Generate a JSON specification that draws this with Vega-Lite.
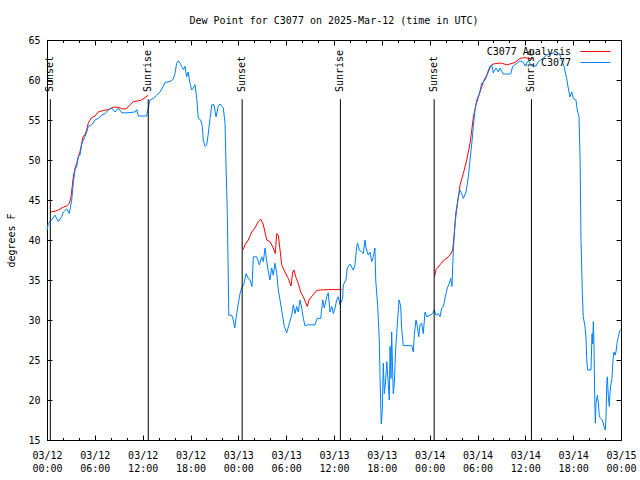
{
  "$schema": "https://vega.github.io/schema/vega-lite/v6.json",
  "width": 574,
  "height": 400,
  "autosize": {"type": "none"},
  "padding": {"left": 47, "top": 40, "right": 19, "bottom": 40},
  "background": "#ffffff",
  "title": {"text": "Dew Point for C3077 on 2025-Mar-12 (time in UTC)", "font": "DejaVu Sans Mono", "fontSize": 10, "fontWeight": "normal", "color": "#000", "offset": 9, "anchor": "middle"},
  "config": {
    "font": "DejaVu Sans Mono",
    "view": {"stroke": "#000", "strokeWidth": 1},
    "axis": {"domainColor": "#000", "tickColor": "#000", "labelColor": "#000", "titleColor": "#000", "labelFont": "DejaVu Sans Mono", "labelFontSize": 10, "titleFont": "DejaVu Sans Mono", "titleFontSize": 10, "titleFontWeight": "normal", "grid": false, "domain": false}
  },
  "resolve": {"axis": {"x": "independent", "y": "independent"}},
  "layer": [
    {
      "data": {
        "values": [
          {"t":"2025-03-12T00:28Z","v":43.5,"g":1},{"t":"2025-03-12T01:00Z","v":43.6,"g":1},{"t":"2025-03-12T01:25Z","v":43.75,"g":1},{"t":"2025-03-12T02:03Z","v":44.1,"g":1},{"t":"2025-03-12T02:28Z","v":44.25,"g":1},{"t":"2025-03-12T02:48Z","v":44.6,"g":1},{"t":"2025-03-12T03:01Z","v":45.4,"g":1},{"t":"2025-03-12T03:10Z","v":46.7,"g":1},{"t":"2025-03-12T03:18Z","v":47.9,"g":1},{"t":"2025-03-12T03:31Z","v":49.0,"g":1},{"t":"2025-03-12T03:44Z","v":49.6,"g":1},{"t":"2025-03-12T03:56Z","v":50.4,"g":1},{"t":"2025-03-12T04:08Z","v":51.0,"g":1},{"t":"2025-03-12T04:21Z","v":52.1,"g":1},{"t":"2025-03-12T04:33Z","v":53.0,"g":1},{"t":"2025-03-12T04:46Z","v":53.1,"g":1},{"t":"2025-03-12T04:59Z","v":53.8,"g":1},{"t":"2025-03-12T05:11Z","v":54.6,"g":1},{"t":"2025-03-12T05:24Z","v":55.0,"g":1},{"t":"2025-03-12T05:36Z","v":55.3,"g":1},{"t":"2025-03-12T06:01Z","v":55.5,"g":1},{"t":"2025-03-12T06:26Z","v":56.0,"g":1},{"t":"2025-03-12T07:04Z","v":56.2,"g":1},{"t":"2025-03-12T07:41Z","v":56.3,"g":1},{"t":"2025-03-12T08:19Z","v":56.6,"g":1},{"t":"2025-03-12T08:57Z","v":56.6,"g":1},{"t":"2025-03-12T09:22Z","v":56.4,"g":1},{"t":"2025-03-12T09:55Z","v":56.4,"g":1},{"t":"2025-03-12T10:25Z","v":56.9,"g":1},{"t":"2025-03-12T10:50Z","v":57.3,"g":1},{"t":"2025-03-12T11:27Z","v":57.4,"g":1},{"t":"2025-03-12T11:53Z","v":57.5,"g":1},{"t":"2025-03-12T12:18Z","v":57.8,"g":1},{"t":"2025-03-12T12:42Z","v":58.1,"g":1},
          {"t":"2025-03-13T00:37Z","v":38.8,"g":2},{"t":"2025-03-13T00:50Z","v":39.4,"g":2},{"t":"2025-03-13T01:15Z","v":40.0,"g":2},{"t":"2025-03-13T01:41Z","v":41.0,"g":2},{"t":"2025-03-13T02:05Z","v":41.5,"g":2},{"t":"2025-03-13T02:30Z","v":42.3,"g":2},{"t":"2025-03-13T02:49Z","v":42.6,"g":2},{"t":"2025-03-13T03:08Z","v":41.9,"g":2},{"t":"2025-03-13T03:34Z","v":40.0,"g":2},{"t":"2025-03-13T03:58Z","v":39.8,"g":2},{"t":"2025-03-13T04:23Z","v":39.0,"g":2},{"t":"2025-03-13T04:38Z","v":38.3,"g":2},{"t":"2025-03-13T04:49Z","v":40.8,"g":2},{"t":"2025-03-13T05:01Z","v":40.6,"g":2},{"t":"2025-03-13T05:14Z","v":38.75,"g":2},{"t":"2025-03-13T05:26Z","v":36.9,"g":2},{"t":"2025-03-13T05:51Z","v":36.0,"g":2},{"t":"2025-03-13T06:16Z","v":35.2,"g":2},{"t":"2025-03-13T06:37Z","v":34.25,"g":2},{"t":"2025-03-13T06:49Z","v":36.0,"g":2},{"t":"2025-03-13T06:59Z","v":36.25,"g":2},{"t":"2025-03-13T07:12Z","v":35.4,"g":2},{"t":"2025-03-13T07:31Z","v":34.6,"g":2},{"t":"2025-03-13T07:49Z","v":33.5,"g":2},{"t":"2025-03-13T08:09Z","v":32.9,"g":2},{"t":"2025-03-13T08:39Z","v":31.7,"g":2},{"t":"2025-03-13T08:52Z","v":32.5,"g":2},{"t":"2025-03-13T09:20Z","v":33.1,"g":2},{"t":"2025-03-13T09:50Z","v":33.7,"g":2},{"t":"2025-03-13T10:20Z","v":33.75,"g":2},{"t":"2025-03-13T11:17Z","v":33.8,"g":2},{"t":"2025-03-13T12:58Z","v":33.8,"g":2},
          {"t":"2025-03-14T00:38Z","v":35.5,"g":3},{"t":"2025-03-14T00:48Z","v":36.3,"g":3},{"t":"2025-03-14T01:18Z","v":36.9,"g":3},{"t":"2025-03-14T01:43Z","v":37.4,"g":3},{"t":"2025-03-14T02:20Z","v":37.9,"g":3},{"t":"2025-03-14T02:38Z","v":38.25,"g":3},{"t":"2025-03-14T02:53Z","v":38.75,"g":3},{"t":"2025-03-14T03:05Z","v":40.8,"g":3},{"t":"2025-03-14T03:18Z","v":43.5,"g":3},{"t":"2025-03-14T03:35Z","v":45.2,"g":3},{"t":"2025-03-14T03:49Z","v":46.9,"g":3},{"t":"2025-03-14T04:13Z","v":48.3,"g":3},{"t":"2025-03-14T04:39Z","v":50.0,"g":3},{"t":"2025-03-14T05:04Z","v":52.1,"g":3},{"t":"2025-03-14T05:17Z","v":53.75,"g":3},{"t":"2025-03-14T05:29Z","v":55.4,"g":3},{"t":"2025-03-14T05:49Z","v":56.9,"g":3},{"t":"2025-03-14T06:19Z","v":58.5,"g":3},{"t":"2025-03-14T06:44Z","v":59.8,"g":3},{"t":"2025-03-14T07:09Z","v":60.6,"g":3},{"t":"2025-03-14T07:34Z","v":61.7,"g":3},{"t":"2025-03-14T07:59Z","v":62.0,"g":3},{"t":"2025-03-14T08:37Z","v":62.1,"g":3},{"t":"2025-03-14T09:02Z","v":62.1,"g":3},{"t":"2025-03-14T09:40Z","v":61.9,"g":3},{"t":"2025-03-14T10:05Z","v":62.0,"g":3},{"t":"2025-03-14T10:43Z","v":62.2,"g":3},{"t":"2025-03-14T11:20Z","v":62.7,"g":3},{"t":"2025-03-14T11:58Z","v":62.8,"g":3},{"t":"2025-03-14T12:23Z","v":62.7,"g":3},{"t":"2025-03-14T12:56Z","v":62.6,"g":3}
        ]
      },
      "mark": {"type": "line", "strokeWidth": 1},
      "encoding": {
        "x": {"field": "t", "type": "temporal", "scale": {"type": "utc", "nice": false, "domain": [1741737600000, 1741996800000]}, "axis": {"orient": "top", "title": null, "labels": false, "tickSize": -5, "values": [1741737600000, 1741759200000, 1741780800000, 1741802400000, 1741824000000, 1741845600000, 1741867200000, 1741888800000, 1741910400000, 1741932000000, 1741953600000, 1741975200000, 1741996800000]}},
        "y": {"field": "v", "type": "quantitative", "scale": {"domain": [15, 65], "nice": false, "zero": false}, "axis": {"orient": "right", "title": null, "labels": false, "tickSize": -5, "values": [15, 20, 25, 30, 35, 40, 45, 50, 55, 60, 65]}},
        "detail": {"field": "g", "type": "nominal"},
        "color": {"datum": "C3077 Analysis", "type": "nominal", "scale": {"domain": ["C3077 Analysis", "C3077"], "range": ["#ff0000", "#0080ff"]}, "legend": {"orient": "none", "legendX": 543, "legendY": 6, "padding": 0, "title": null, "symbolType": "M-3,0H3", "symbolSize": 100, "symbolStrokeWidth": 1, "rowPadding": 0, "labelAlign": "right", "labelOffset": -30, "labelFont": "DejaVu Sans Mono", "labelFontSize": 10, "labelColor": "#000"}}
      }
    },
    {
      "data": {
        "values": [
          {"t":"2025-03-12T00:00Z","v":41.2},{"t":"2025-03-12T00:10Z","v":42.1},{"t":"2025-03-12T00:35Z","v":42.5},{"t":"2025-03-12T01:00Z","v":43.1},{"t":"2025-03-12T01:25Z","v":42.3},{"t":"2025-03-12T01:50Z","v":42.9},{"t":"2025-03-12T02:03Z","v":43.5},{"t":"2025-03-12T02:28Z","v":43.9},{"t":"2025-03-12T02:48Z","v":43.3},{"t":"2025-03-12T03:06Z","v":45.0},{"t":"2025-03-12T03:18Z","v":47.1},{"t":"2025-03-12T03:31Z","v":48.75},{"t":"2025-03-12T03:44Z","v":49.2},{"t":"2025-03-12T03:56Z","v":50.4},{"t":"2025-03-12T04:08Z","v":50.6},{"t":"2025-03-12T04:21Z","v":51.9},{"t":"2025-03-12T04:33Z","v":52.5},{"t":"2025-03-12T04:46Z","v":52.9},{"t":"2025-03-12T04:59Z","v":53.5},{"t":"2025-03-12T05:11Z","v":54.2},{"t":"2025-03-12T05:36Z","v":54.4},{"t":"2025-03-12T06:01Z","v":55.0},{"t":"2025-03-12T06:26Z","v":55.2},{"t":"2025-03-12T06:52Z","v":55.6},{"t":"2025-03-12T07:17Z","v":55.8},{"t":"2025-03-12T07:41Z","v":56.25},{"t":"2025-03-12T08:07Z","v":56.5},{"t":"2025-03-12T08:32Z","v":56.0},{"t":"2025-03-12T08:57Z","v":56.5},{"t":"2025-03-12T09:22Z","v":55.9},{"t":"2025-03-12T10:00Z","v":55.9},{"t":"2025-03-12T11:02Z","v":56.0},{"t":"2025-03-12T11:15Z","v":56.3},{"t":"2025-03-12T11:27Z","v":55.5},{"t":"2025-03-12T12:30Z","v":55.5},{"t":"2025-03-12T12:42Z","v":56.5},{"t":"2025-03-12T12:55Z","v":57.5},{"t":"2025-03-12T13:20Z","v":57.7},{"t":"2025-03-12T13:46Z","v":58.1},{"t":"2025-03-12T14:10Z","v":58.5},{"t":"2025-03-12T14:35Z","v":59.2},{"t":"2025-03-12T14:48Z","v":59.7},{"t":"2025-03-12T15:26Z","v":59.8},{"t":"2025-03-12T15:50Z","v":60.1},{"t":"2025-03-12T16:03Z","v":60.8},{"t":"2025-03-12T16:16Z","v":62.1},{"t":"2025-03-12T16:28Z","v":62.4},{"t":"2025-03-12T16:41Z","v":62.1},{"t":"2025-03-12T16:54Z","v":61.7},{"t":"2025-03-12T17:06Z","v":61.3},{"t":"2025-03-12T17:19Z","v":61.7},{"t":"2025-03-12T17:31Z","v":60.4},{"t":"2025-03-12T17:43Z","v":61.0},{"t":"2025-03-12T17:56Z","v":59.6},{"t":"2025-03-12T18:09Z","v":58.75},{"t":"2025-03-12T18:21Z","v":59.0},{"t":"2025-03-12T18:34Z","v":59.4},{"t":"2025-03-12T18:47Z","v":57.7},{"t":"2025-03-12T18:59Z","v":55.2},{"t":"2025-03-12T19:17Z","v":55.0},{"t":"2025-03-12T19:29Z","v":54.2},{"t":"2025-03-12T19:36Z","v":52.5},{"t":"2025-03-12T19:49Z","v":51.7},{"t":"2025-03-12T20:02Z","v":51.9},{"t":"2025-03-12T20:14Z","v":53.3},{"t":"2025-03-12T20:27Z","v":55.2},{"t":"2025-03-12T20:40Z","v":56.9},{"t":"2025-03-12T20:57Z","v":56.9},{"t":"2025-03-12T21:12Z","v":55.4},{"t":"2025-03-12T21:29Z","v":56.7},{"t":"2025-03-12T21:42Z","v":57.0},{"t":"2025-03-12T22:07Z","v":56.5},{"t":"2025-03-12T22:20Z","v":54.6},{"t":"2025-03-12T22:27Z","v":49.6},{"t":"2025-03-12T22:37Z","v":43.3},{"t":"2025-03-12T22:45Z","v":34.6},{"t":"2025-03-12T22:48Z","v":30.6},{"t":"2025-03-12T23:10Z","v":30.6},{"t":"2025-03-12T23:22Z","v":30.0},{"t":"2025-03-12T23:33Z","v":29.0},{"t":"2025-03-12T23:48Z","v":30.8},
          {"t":"2025-03-13T00:00Z","v":32.1},{"t":"2025-03-13T00:13Z","v":33.3},{"t":"2025-03-13T00:25Z","v":34.0},{"t":"2025-03-13T00:43Z","v":34.6},{"t":"2025-03-13T00:58Z","v":35.8},{"t":"2025-03-13T01:15Z","v":35.2},{"t":"2025-03-13T01:28Z","v":35.0},{"t":"2025-03-13T01:43Z","v":34.2},{"t":"2025-03-13T01:53Z","v":37.9},{"t":"2025-03-13T02:18Z","v":37.9},{"t":"2025-03-13T02:38Z","v":36.9},{"t":"2025-03-13T02:56Z","v":37.9},{"t":"2025-03-13T03:08Z","v":37.3},{"t":"2025-03-13T03:21Z","v":39.0},{"t":"2025-03-13T03:34Z","v":37.3},{"t":"2025-03-13T03:46Z","v":36.0},{"t":"2025-03-13T03:58Z","v":35.0},{"t":"2025-03-13T04:11Z","v":36.5},{"t":"2025-03-13T04:23Z","v":35.6},{"t":"2025-03-13T04:36Z","v":37.1},{"t":"2025-03-13T04:49Z","v":35.8},{"t":"2025-03-13T05:01Z","v":33.75},{"t":"2025-03-13T05:14Z","v":32.5},{"t":"2025-03-13T05:34Z","v":30.4},{"t":"2025-03-13T05:46Z","v":29.2},{"t":"2025-03-13T06:04Z","v":28.4},{"t":"2025-03-13T06:24Z","v":29.6},{"t":"2025-03-13T06:42Z","v":30.6},{"t":"2025-03-13T06:54Z","v":31.9},{"t":"2025-03-13T07:07Z","v":30.8},{"t":"2025-03-13T07:19Z","v":31.7},{"t":"2025-03-13T07:31Z","v":31.0},{"t":"2025-03-13T07:44Z","v":32.5},{"t":"2025-03-13T07:57Z","v":31.5},{"t":"2025-03-13T08:09Z","v":30.2},{"t":"2025-03-13T08:22Z","v":29.25},{"t":"2025-03-13T08:39Z","v":29.4},{"t":"2025-03-13T09:37Z","v":29.4},{"t":"2025-03-13T09:54Z","v":30.2},{"t":"2025-03-13T10:20Z","v":30.2},{"t":"2025-03-13T10:35Z","v":32.5},{"t":"2025-03-13T10:47Z","v":31.5},{"t":"2025-03-13T11:05Z","v":32.9},{"t":"2025-03-13T11:17Z","v":33.4},{"t":"2025-03-13T11:30Z","v":31.0},{"t":"2025-03-13T11:43Z","v":31.7},{"t":"2025-03-13T11:55Z","v":30.8},{"t":"2025-03-13T12:08Z","v":31.5},{"t":"2025-03-13T12:20Z","v":32.5},{"t":"2025-03-13T12:32Z","v":32.9},{"t":"2025-03-13T12:45Z","v":31.9},{"t":"2025-03-13T13:05Z","v":32.7},{"t":"2025-03-13T13:10Z","v":34.4},{"t":"2025-03-13T13:30Z","v":35.0},{"t":"2025-03-13T13:40Z","v":36.5},{"t":"2025-03-13T14:00Z","v":37.0},{"t":"2025-03-13T14:25Z","v":36.25},{"t":"2025-03-13T14:38Z","v":36.9},{"t":"2025-03-13T14:51Z","v":39.2},{"t":"2025-03-13T14:58Z","v":39.6},{"t":"2025-03-13T15:10Z","v":38.75},{"t":"2025-03-13T15:29Z","v":38.5},{"t":"2025-03-13T15:41Z","v":38.3},{"t":"2025-03-13T15:53Z","v":40.0},{"t":"2025-03-13T16:01Z","v":39.0},{"t":"2025-03-13T16:18Z","v":38.1},{"t":"2025-03-13T16:31Z","v":38.5},{"t":"2025-03-13T16:44Z","v":37.3},{"t":"2025-03-13T16:56Z","v":37.9},{"t":"2025-03-13T17:08Z","v":39.0},{"t":"2025-03-13T17:14Z","v":35.0},{"t":"2025-03-13T17:29Z","v":31.7},{"t":"2025-03-13T17:41Z","v":27.5},{"t":"2025-03-13T17:46Z","v":23.3},{"t":"2025-03-13T17:52Z","v":18.9},{"t":"2025-03-13T17:56Z","v":17.0},{"t":"2025-03-13T18:04Z","v":18.9},{"t":"2025-03-13T18:11Z","v":24.6},{"t":"2025-03-13T18:19Z","v":20.8},{"t":"2025-03-13T18:29Z","v":22.5},{"t":"2025-03-13T18:37Z","v":24.8},{"t":"2025-03-13T18:49Z","v":21.9},{"t":"2025-03-13T18:56Z","v":20.0},{"t":"2025-03-13T19:02Z","v":26.7},{"t":"2025-03-13T19:09Z","v":22.7},{"t":"2025-03-13T19:14Z","v":28.5},{"t":"2025-03-13T19:26Z","v":20.8},{"t":"2025-03-13T19:34Z","v":22.1},{"t":"2025-03-13T19:44Z","v":26.25},{"t":"2025-03-13T19:52Z","v":28.3},{"t":"2025-03-13T19:59Z","v":30.0},{"t":"2025-03-13T20:09Z","v":32.5},{"t":"2025-03-13T20:22Z","v":31.75},{"t":"2025-03-13T20:29Z","v":29.0},{"t":"2025-03-13T20:41Z","v":26.8},{"t":"2025-03-13T21:45Z","v":26.8},{"t":"2025-03-13T21:57Z","v":26.0},{"t":"2025-03-13T22:04Z","v":28.1},{"t":"2025-03-13T22:17Z","v":30.0},{"t":"2025-03-13T22:27Z","v":29.2},{"t":"2025-03-13T22:38Z","v":27.9},{"t":"2025-03-13T22:47Z","v":29.4},{"t":"2025-03-13T23:00Z","v":29.6},{"t":"2025-03-13T23:12Z","v":28.3},{"t":"2025-03-13T23:25Z","v":31.0},{"t":"2025-03-13T23:38Z","v":30.4},
          {"t":"2025-03-14T00:03Z","v":30.6},{"t":"2025-03-14T00:23Z","v":30.8},{"t":"2025-03-14T00:35Z","v":31.25},{"t":"2025-03-14T00:48Z","v":30.6},{"t":"2025-03-14T01:05Z","v":30.8},{"t":"2025-03-14T01:18Z","v":30.4},{"t":"2025-03-14T01:31Z","v":31.5},{"t":"2025-03-14T01:43Z","v":31.7},{"t":"2025-03-14T02:03Z","v":33.3},{"t":"2025-03-14T02:13Z","v":34.0},{"t":"2025-03-14T02:28Z","v":34.6},{"t":"2025-03-14T02:38Z","v":35.2},{"t":"2025-03-14T02:48Z","v":34.2},{"t":"2025-03-14T02:58Z","v":38.75},{"t":"2025-03-14T03:11Z","v":42.1},{"t":"2025-03-14T03:23Z","v":43.75},{"t":"2025-03-14T03:35Z","v":45.4},{"t":"2025-03-14T03:49Z","v":46.25},{"t":"2025-03-14T04:01Z","v":45.8},{"t":"2025-03-14T04:13Z","v":45.2},{"t":"2025-03-14T04:34Z","v":46.0},{"t":"2025-03-14T04:51Z","v":47.9},{"t":"2025-03-14T05:04Z","v":50.0},{"t":"2025-03-14T05:17Z","v":52.1},{"t":"2025-03-14T05:29Z","v":54.2},{"t":"2025-03-14T05:41Z","v":56.25},{"t":"2025-03-14T05:54Z","v":57.5},{"t":"2025-03-14T06:14Z","v":58.3},{"t":"2025-03-14T06:32Z","v":59.6},{"t":"2025-03-14T06:57Z","v":60.0},{"t":"2025-03-14T07:17Z","v":60.8},{"t":"2025-03-14T07:34Z","v":61.5},{"t":"2025-03-14T07:47Z","v":61.9},{"t":"2025-03-14T07:59Z","v":60.9},{"t":"2025-03-14T08:19Z","v":61.5},{"t":"2025-03-14T08:37Z","v":61.0},{"t":"2025-03-14T08:49Z","v":61.5},{"t":"2025-03-14T09:14Z","v":60.75},{"t":"2025-03-14T10:10Z","v":60.75},{"t":"2025-03-14T10:25Z","v":61.7},{"t":"2025-03-14T10:43Z","v":61.9},{"t":"2025-03-14T11:20Z","v":62.4},{"t":"2025-03-14T11:45Z","v":62.2},{"t":"2025-03-14T11:58Z","v":61.75},{"t":"2025-03-14T12:23Z","v":62.4},{"t":"2025-03-14T12:48Z","v":61.75},{"t":"2025-03-14T13:20Z","v":61.75},{"t":"2025-03-14T13:38Z","v":62.3},{"t":"2025-03-14T13:56Z","v":62.5},{"t":"2025-03-14T14:15Z","v":62.7},{"t":"2025-03-14T14:36Z","v":63.1},{"t":"2025-03-14T15:06Z","v":63.25},{"t":"2025-03-14T15:31Z","v":63.4},{"t":"2025-03-14T15:56Z","v":63.1},{"t":"2025-03-14T16:16Z","v":63.3},{"t":"2025-03-14T16:34Z","v":62.5},{"t":"2025-03-14T16:51Z","v":61.7},{"t":"2025-03-14T17:11Z","v":60.2},{"t":"2025-03-14T17:23Z","v":59.0},{"t":"2025-03-14T17:36Z","v":57.9},{"t":"2025-03-14T17:49Z","v":58.5},{"t":"2025-03-14T18:01Z","v":57.7},{"t":"2025-03-14T18:21Z","v":57.5},{"t":"2025-03-14T18:31Z","v":56.25},{"t":"2025-03-14T18:44Z","v":55.4},{"t":"2025-03-14T18:52Z","v":50.2},{"t":"2025-03-14T18:59Z","v":40.0},{"t":"2025-03-14T19:09Z","v":33.3},{"t":"2025-03-14T19:16Z","v":30.4},{"t":"2025-03-14T19:29Z","v":29.2},{"t":"2025-03-14T19:37Z","v":27.7},{"t":"2025-03-14T19:42Z","v":25.0},{"t":"2025-03-14T19:49Z","v":23.75},{"t":"2025-03-14T20:14Z","v":23.75},{"t":"2025-03-14T20:22Z","v":28.3},{"t":"2025-03-14T20:27Z","v":27.0},{"t":"2025-03-14T20:32Z","v":29.8},{"t":"2025-03-14T20:37Z","v":26.7},{"t":"2025-03-14T20:42Z","v":20.4},{"t":"2025-03-14T20:47Z","v":17.1},{"t":"2025-03-14T20:52Z","v":19.6},{"t":"2025-03-14T21:02Z","v":20.6},{"t":"2025-03-14T21:10Z","v":19.6},{"t":"2025-03-14T21:17Z","v":17.9},{"t":"2025-03-14T21:28Z","v":17.7},{"t":"2025-03-14T21:40Z","v":17.5},{"t":"2025-03-14T21:52Z","v":16.7},{"t":"2025-03-14T22:02Z","v":16.25},{"t":"2025-03-14T22:07Z","v":17.9},{"t":"2025-03-14T22:13Z","v":22.1},{"t":"2025-03-14T22:17Z","v":22.9},{"t":"2025-03-14T22:25Z","v":20.4},{"t":"2025-03-14T22:32Z","v":19.2},{"t":"2025-03-14T22:37Z","v":20.8},{"t":"2025-03-14T22:45Z","v":22.1},{"t":"2025-03-14T22:52Z","v":22.7},{"t":"2025-03-14T23:00Z","v":25.0},{"t":"2025-03-14T23:07Z","v":26.0},{"t":"2025-03-14T23:15Z","v":25.6},{"t":"2025-03-14T23:22Z","v":26.0},{"t":"2025-03-14T23:32Z","v":27.3},{"t":"2025-03-14T23:40Z","v":27.9},{"t":"2025-03-14T23:47Z","v":28.5},{"t":"2025-03-14T23:57Z","v":28.8}
        ]
      },
      "mark": {"type": "line", "strokeWidth": 1},
      "encoding": {
        "x": {"field": "t", "type": "temporal", "scale": {"type": "utc", "nice": false, "domain": [1741737600000, 1741996800000]}, "axis": {"orient": "bottom", "title": null, "tickSize": -5, "values": [1741737600000, 1741759200000, 1741780800000, 1741802400000, 1741824000000, 1741845600000, 1741867200000, 1741888800000, 1741910400000, 1741932000000, 1741953600000, 1741975200000, 1741996800000], "labelPadding": 15, "labelExpr": "[utcFormat(datum.value, '%m/%d'), utcFormat(datum.value, '%H:%M')]", "labelLineHeight": 13, "labelOverlap": false, "labelFlush": false, "labelAngle": 0}},
        "y": {"field": "v", "type": "quantitative", "scale": {"domain": [15, 65], "nice": false, "zero": false}, "axis": {"orient": "left", "title": "degrees F", "tickSize": -5, "values": [15, 20, 25, 30, 35, 40, 45, 50, 55, 60, 65], "labelPadding": 12, "titlePadding": 11, "format": "d"}},
        "color": {"datum": "C3077", "type": "nominal", "scale": {"domain": ["C3077 Analysis", "C3077"], "range": ["#ff0000", "#0080ff"]}}
      }
    },
    {
      "data": {
        "values": [
          {"t": "2025-03-12T00:25Z", "name": "Sunset"},
          {"t": "2025-03-12T12:42Z", "name": "Sunrise"},
          {"t": "2025-03-13T00:29Z", "name": "Sunset"},
          {"t": "2025-03-13T12:48Z", "name": "Sunrise"},
          {"t": "2025-03-14T00:34Z", "name": "Sunset"},
          {"t": "2025-03-14T12:46Z", "name": "Sunrise"}
        ]
      },
      "mark": {"type": "rule", "color": "#000", "strokeWidth": 1},
      "encoding": {
        "x": {"field": "t", "type": "temporal", "scale": {"type": "utc", "nice": false, "domain": [1741737600000, 1741996800000]}, "axis": {"orient": "bottom", "title": null, "labels": false, "tickSize": -2.5, "values": [1741737600000, 1741744800000, 1741752000000, 1741759200000, 1741766400000, 1741773600000, 1741780800000, 1741788000000, 1741795200000, 1741802400000, 1741809600000, 1741816800000, 1741824000000, 1741831200000, 1741838400000, 1741845600000, 1741852800000, 1741860000000, 1741867200000, 1741874400000, 1741881600000, 1741888800000, 1741896000000, 1741903200000, 1741910400000, 1741917600000, 1741924800000, 1741932000000, 1741939200000, 1741946400000, 1741953600000, 1741960800000, 1741968000000, 1741975200000, 1741982400000, 1741989600000, 1741996800000]}},
        "y": {"datum": 57.6, "type": "quantitative", "axis": null},
        "y2": {"datum": 15}
      }
    },
    {
      "data": {
        "values": [
          {"t": "2025-03-12T00:25Z", "name": "Sunset"},
          {"t": "2025-03-12T12:42Z", "name": "Sunrise"},
          {"t": "2025-03-13T00:29Z", "name": "Sunset"},
          {"t": "2025-03-13T12:48Z", "name": "Sunrise"},
          {"t": "2025-03-14T00:34Z", "name": "Sunset"},
          {"t": "2025-03-14T12:46Z", "name": "Sunrise"}
        ]
      },
      "mark": {"type": "text", "angle": 270, "align": "left", "baseline": "middle", "font": "DejaVu Sans Mono", "fontSize": 10, "color": "#000"},
      "encoding": {
        "x": {"field": "t", "type": "temporal", "scale": {"type": "utc", "nice": false, "domain": [1741737600000, 1741996800000]}, "axis": {"orient": "top", "title": null, "labels": false, "tickSize": -2.5, "values": [1741737600000, 1741744800000, 1741752000000, 1741759200000, 1741766400000, 1741773600000, 1741780800000, 1741788000000, 1741795200000, 1741802400000, 1741809600000, 1741816800000, 1741824000000, 1741831200000, 1741838400000, 1741845600000, 1741852800000, 1741860000000, 1741867200000, 1741874400000, 1741881600000, 1741888800000, 1741896000000, 1741903200000, 1741910400000, 1741917600000, 1741924800000, 1741932000000, 1741939200000, 1741946400000, 1741953600000, 1741960800000, 1741968000000, 1741975200000, 1741982400000, 1741989600000, 1741996800000]}},
        "y": {"datum": 58.5, "type": "quantitative", "axis": null},
        "text": {"field": "name", "type": "nominal"}
      }
    }
  ]
}
